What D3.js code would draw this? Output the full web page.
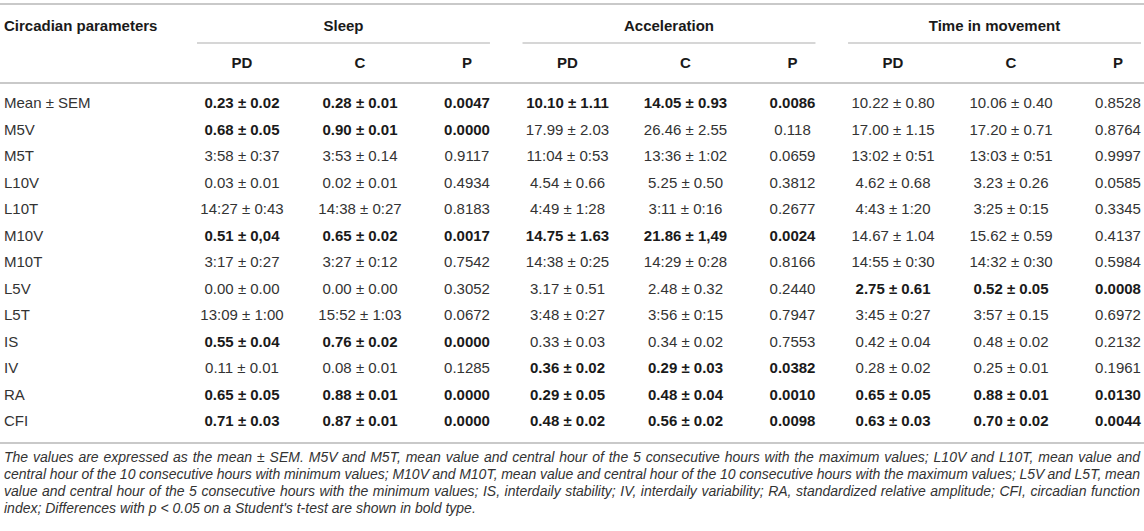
<!DOCTYPE html>
<html>
<head>
<meta charset="utf-8">
<script src="https://cdn.jsdelivr.net/npm/d3@7"></script>
<style>
  body { margin: 0; background: #fff; }
  text { font-family: "Liberation Sans", Arial, Helvetica, sans-serif; }
</style>
</head>
<body>
<div id="chart"></div>
<script>

// table content
var params = ["Mean ± SEM", "M5V", "M5T", "L10V", "L10T", "M10V", "M10T", "L5V", "L5T", "IS", "IV", "RA", "CFI"];
var groups = ["Sleep", "Acceleration", "Time in movement"];
var subCols = ["PD", "C", "P"];

var sleepPD = ["0.23 ± 0.02", "0.68 ± 0.05", "3:58 ± 0:37", "0.03 ± 0.01", "14:27 ± 0:43", "0.51 ± 0,04", "3:17 ± 0:27", "0.00 ± 0.00", "13:09 ± 1:00", "0.55 ± 0.04", "0.11 ± 0.01", "0.65 ± 0.05", "0.71 ± 0.03"];
var sleepC  = ["0.28 ± 0.01", "0.90 ± 0.01", "3:53 ± 0.14", "0.02 ± 0.01", "14:38 ± 0:27", "0.65 ± 0.02", "3:27 ± 0:12", "0.00 ± 0.00", "15:52 ± 1:03", "0.76 ± 0.02", "0.08 ± 0.01", "0.88 ± 0.01", "0.87 ± 0.01"];
var sleepP  = ["0.0047", "0.0000", "0.9117", "0.4934", "0.8183", "0.0017", "0.7542", "0.3052", "0.0672", "0.0000", "0.1285", "0.0000", "0.0000"];

var accPD = ["10.10 ± 1.11", "17.99 ± 2.03", "11:04 ± 0:53", "4.54 ± 0.66", "4:49 ± 1:28", "14.75 ± 1.63", "14:38 ± 0:25", "3.17 ± 0.51", "3:48 ± 0:27", "0.33 ± 0.03", "0.36 ± 0.02", "0.29 ± 0.05", "0.48 ± 0.02"];
var accC  = ["14.05 ± 0.93", "26.46 ± 2.55", "13:36 ± 1:02", "5.25 ± 0.50", "3:11 ± 0:16", "21.86 ± 1,49", "14:29 ± 0:28", "2.48 ± 0.32", "3:56 ± 0:15", "0.34 ± 0.02", "0.29 ± 0.03", "0.48 ± 0.04", "0.56 ± 0.02"];
var accP  = ["0.0086", "0.118", "0.0659", "0.3812", "0.2677", "0.0024", "0.8166", "0.2440", "0.7947", "0.7553", "0.0382", "0.0010", "0.0098"];

var timePD = ["10.22 ± 0.80", "17.00 ± 1.15", "13:02 ± 0:51", "4.62 ± 0.68", "4:43 ± 1:20", "14.67 ± 1.04", "14:55 ± 0:30", "2.75 ± 0.61", "3:45 ± 0:27", "0.42 ± 0.04", "0.28 ± 0.02", "0.65 ± 0.05", "0.63 ± 0.03"];
var timeC  = ["10.06 ± 0.40", "17.20 ± 0.71", "13:03 ± 0:51", "3.23 ± 0.26", "3:25 ± 0:15", "15.62 ± 0.59", "14:32 ± 0:30", "0.52 ± 0.05", "3:57 ± 0.15", "0.48 ± 0.02", "0.25 ± 0.01", "0.88 ± 0.01", "0.70 ± 0.02"];
var timeP  = ["0.8528", "0.8764", "0.9997", "0.0585", "0.3345", "0.4137", "0.5984", "0.0008", "0.6972", "0.2132", "0.1961", "0.0130", "0.0044"];

// rows with p < 0.05 (shown in bold)
var sleepBold = ["Mean ± SEM", "M5V", "M10V", "IS", "RA", "CFI"];
var accBold   = ["Mean ± SEM", "M10V", "IV", "RA", "CFI"];
var timeBold  = ["L5V", "RA", "CFI"];

var notes = [
  "The values are expressed as the mean ± SEM. M5V and M5T, mean value and central hour of the 5 consecutive hours with the maximum values; L10V and L10T, mean value and",
  "central hour of the 10 consecutive hours with minimum values; M10V and M10T, mean value and central hour of the 10 consecutive hours with the maximum values; L5V and L5T, mean",
  "value and central hour of the 5 consecutive hours with the minimum values; IS, interdaily stability; IV, interdaily variability; RA, standardized relative amplitude; CFI, circadian function",
  "index; Differences with p < 0.05 on a Student's t-test are shown in bold type."
];

var width = 1144, height = 531;
var lineColor = "#c9c9c9";

var svg = d3.select("#chart")
  .append("svg")
    .attr("width", width)
    .attr("height", height);

// scales
var y = d3.scalePoint()
  .domain(params)
  .range([103, 421]);

var x0 = d3.scaleBand()
  .domain(groups)
  .range([197, 1141])
  .paddingInner(0.1);

var x1 = d3.scaleOrdinal()
  .domain(subCols)
  .range([45, 163, 270]);

// horizontal rules
svg.append("line")
  .attr("x1", 0).attr("x2", width)
  .attr("y1", 4).attr("y2", 4)
  .attr("stroke", lineColor).attr("stroke-width", 2);

svg.append("line")
  .attr("x1", 0).attr("x2", width)
  .attr("y1", 83).attr("y2", 83)
  .attr("stroke", lineColor).attr("stroke-width", 2);

svg.append("line")
  .attr("x1", 0).attr("x2", width)
  .attr("y1", 443).attr("y2", 443)
  .attr("stroke", lineColor).attr("stroke-width", 2);

// header
svg.append("text")
  .attr("x", 4)
  .attr("y", 26)
  .attr("dy", "0.36em")
  .style("font-size", "15px")
  .style("font-weight", "bold")
  .style("fill", "#1a1a1a")
  .text("Circadian parameters");

var head = svg.append("g")
  .selectAll("g")
  .data(groups)
  .enter()
  .append("g")
    .attr("transform", function(d) { return "translate(" + x0(d) + ",0)"; });

head.append("text")
  .attr("x", x0.bandwidth() / 2)
  .attr("y", 26)
  .attr("dy", "0.36em")
  .attr("text-anchor", "middle")
  .style("font-size", "15px")
  .style("font-weight", "bold")
  .style("fill", "#1a1a1a")
  .text(function(d) { return d; });

head.append("line")
  .attr("x1", 0).attr("x2", x0.bandwidth())
  .attr("y1", 43).attr("y2", 43)
  .attr("stroke", lineColor).attr("stroke-width", 1.5);

head.selectAll(".sub")
  .data(subCols)
  .enter()
  .append("text")
    .attr("class", "sub")
    .attr("x", function(d) { return x1(d); })
    .attr("y", 63)
    .attr("dy", "0.36em")
    .attr("text-anchor", "middle")
    .style("font-size", "15px")
    .style("font-weight", "bold")
    .style("fill", "#1a1a1a")
    .text(function(d) { return d; });

// row labels
svg.append("g")
  .selectAll("text")
  .data(params)
  .enter()
  .append("text")
    .attr("x", 4)
    .attr("y", function(d) { return y(d); })
    .attr("dy", "0.36em")
    .style("font-size", "15px")
    .style("fill", "#333")
    .text(function(d) { return d; });

// cells
var columns = [
  {group: "Sleep", sub: "PD", values: sleepPD, bold: sleepBold},
  {group: "Sleep", sub: "C", values: sleepC, bold: sleepBold},
  {group: "Sleep", sub: "P", values: sleepP, bold: sleepBold},
  {group: "Acceleration", sub: "PD", values: accPD, bold: accBold},
  {group: "Acceleration", sub: "C", values: accC, bold: accBold},
  {group: "Acceleration", sub: "P", values: accP, bold: accBold},
  {group: "Time in movement", sub: "PD", values: timePD, bold: timeBold},
  {group: "Time in movement", sub: "C", values: timeC, bold: timeBold},
  {group: "Time in movement", sub: "P", values: timeP, bold: timeBold}
];

var cells = [];
columns.forEach(function(col) {
  col.values.forEach(function(v, i) {
    cells.push({
      x: x0(col.group) + x1(col.sub),
      row: params[i],
      text: v,
      bold: col.bold.indexOf(params[i]) >= 0
    });
  });
});

svg.append("g")
  .selectAll("text")
  .data(cells)
  .enter()
  .append("text")
    .attr("x", function(d) { return d.x; })
    .attr("y", function(d) { return y(d.row); })
    .attr("dy", "0.36em")
    .attr("text-anchor", "middle")
    .style("font-size", "15px")
    .style("font-weight", function(d) { return d.bold ? "bold" : "normal"; })
    .style("fill", function(d) { return d.bold ? "#1a1a1a" : "#333"; })
    .text(function(d) { return d.text; });

// footnote, justified except for the last line
var noteLeft = 4, noteRight = 1140;
var noteY = d3.scalePoint()
  .domain(d3.range(notes.length))
  .range([457, 508]);

notes.forEach(function(line, li) {
  var t = svg.append("text")
    .attr("y", noteY(li))
    .attr("dy", "0.36em")
    .style("font-size", "14px")
    .style("font-style", "italic")
    .style("fill", "#333");
  var words = line.split(" ");
  var spans = t.selectAll("tspan")
    .data(words)
    .enter()
    .append("tspan")
      .text(function(d) { return d; });
  var widths = [];
  spans.each(function() { widths.push(this.getComputedTextLength()); });
  var total = d3.sum(widths);
  var gap = 3.9;
  if (li < notes.length - 1) gap = Math.max(2.5, (noteRight - noteLeft - total) / (words.length - 1));
  var pos = noteLeft;
  spans.attr("x", function(d, i) {
    var p = pos;
    pos += widths[i] + gap;
    return p;
  });
});

</script>
</body>
</html>
